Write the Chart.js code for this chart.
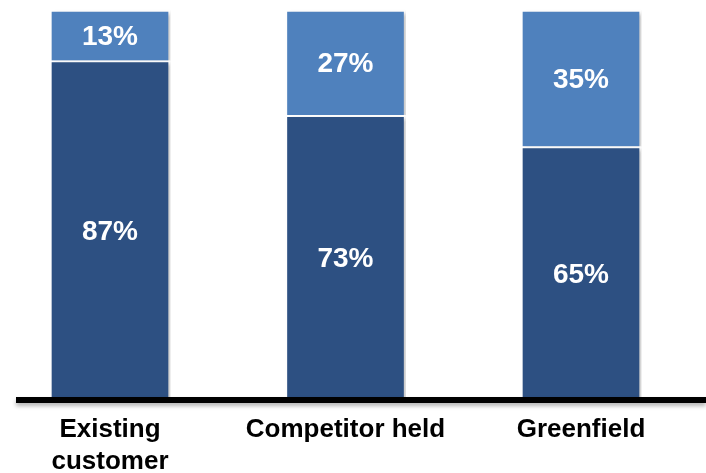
<!DOCTYPE html>
<html>
<head>
<meta charset="utf-8">
<script src="https://cdn.jsdelivr.net/npm/chart.js@4/dist/chart.umd.min.js"></script>
<style>
  html, body { margin: 0; padding: 0; background: #fff; overflow: hidden; }
  #wrap { width: 706px; height: 473px; }
</style>
</head>
<body>
<div id="wrap"><canvas id="chart"></canvas></div>
<script>
const categories = [['Existing', 'customer'], 'Competitor held', 'Greenfield'];
const baseShare = [87, 73, 65];
const topShare = [13, 27, 35];

// soft bar shadow like the office-style chart
const shadowPlugin = {
    id: 'shadow',
    beforeDatasetsDraw(chart) {
        const ctx = chart.ctx;
        ctx.save();
        ctx.shadowColor = 'rgba(0,0,0,0.22)';
        ctx.shadowBlur = 4;
        ctx.shadowOffsetX = 3;
        ctx.shadowOffsetY = 2;
    },
    afterDatasetsDraw(chart) {
        chart.ctx.restore();
    }
};

// white % labels in each segment + thick black base line
const labelPlugin = {
    id: 'labels',
    afterDraw(chart) {
        const ctx = chart.ctx;
        ctx.save();
        ctx.font = 'bold 28px "Liberation Sans", Arial, sans-serif';
        ctx.fillStyle = '#ffffff';
        ctx.textAlign = 'center';
        ctx.textBaseline = 'middle';
        chart.data.datasets.forEach((ds, i) => {
            chart.getDatasetMeta(i).data.forEach((bar, j) => {
                const p = bar.getCenterPoint();
                ctx.fillText(ds.data[j] + '%', p.x, p.y + 2);
            });
        });

        const y = chart.chartArea.bottom;
        ctx.shadowColor = 'rgba(0,0,0,0.3)';
        ctx.shadowBlur = 4;
        ctx.shadowOffsetY = 3;
        ctx.strokeStyle = '#000';
        ctx.lineWidth = 6;
        ctx.beginPath();
        ctx.moveTo(16, y);
        ctx.lineTo(chart.width, y);
        ctx.stroke();
        ctx.restore();
    }
};

new Chart(document.querySelector('#chart').getContext('2d'), {
    type: 'bar',
    data: {
        labels: categories,
        datasets: [{
            label: 'base',
            data: baseShare,
            backgroundColor: '#2D5082',
            borderColor: '#ffffff',
            borderWidth: 2
        }, {
            label: 'top',
            data: topShare,
            backgroundColor: '#4F81BD',
            borderColor: '#ffffff',
            borderWidth: 2
        }]
    },
    plugins: [shadowPlugin, labelPlugin],
    options: {
        responsive: true,
        maintainAspectRatio: false,
        animation: false,
        layout: { padding: { left: 110, right: 125, top: 10, bottom: 0 } },
        plugins: { legend: { display: false }, tooltip: { enabled: false } },
        datasets: { bar: { barThickness: 120, clip: false } },
        scales: {
            x: {
                stacked: true,
                offset: false,
                grid: { display: false, drawTicks: false },
                border: { display: false },
                afterFit: (scale) => { scale.height = 73; },
                ticks: {
                    color: '#000',
                    padding: 14,
                    maxRotation: 0,
                    autoSkip: false,
                    font: { family: '"Liberation Sans", Arial, sans-serif', size: 26, weight: 'bold', lineHeight: '32px' }
                }
            },
            y: {
                stacked: true,
                display: false,
                min: 0,
                max: 100
            }
        }
    }
});
</script>
</body>
</html>
